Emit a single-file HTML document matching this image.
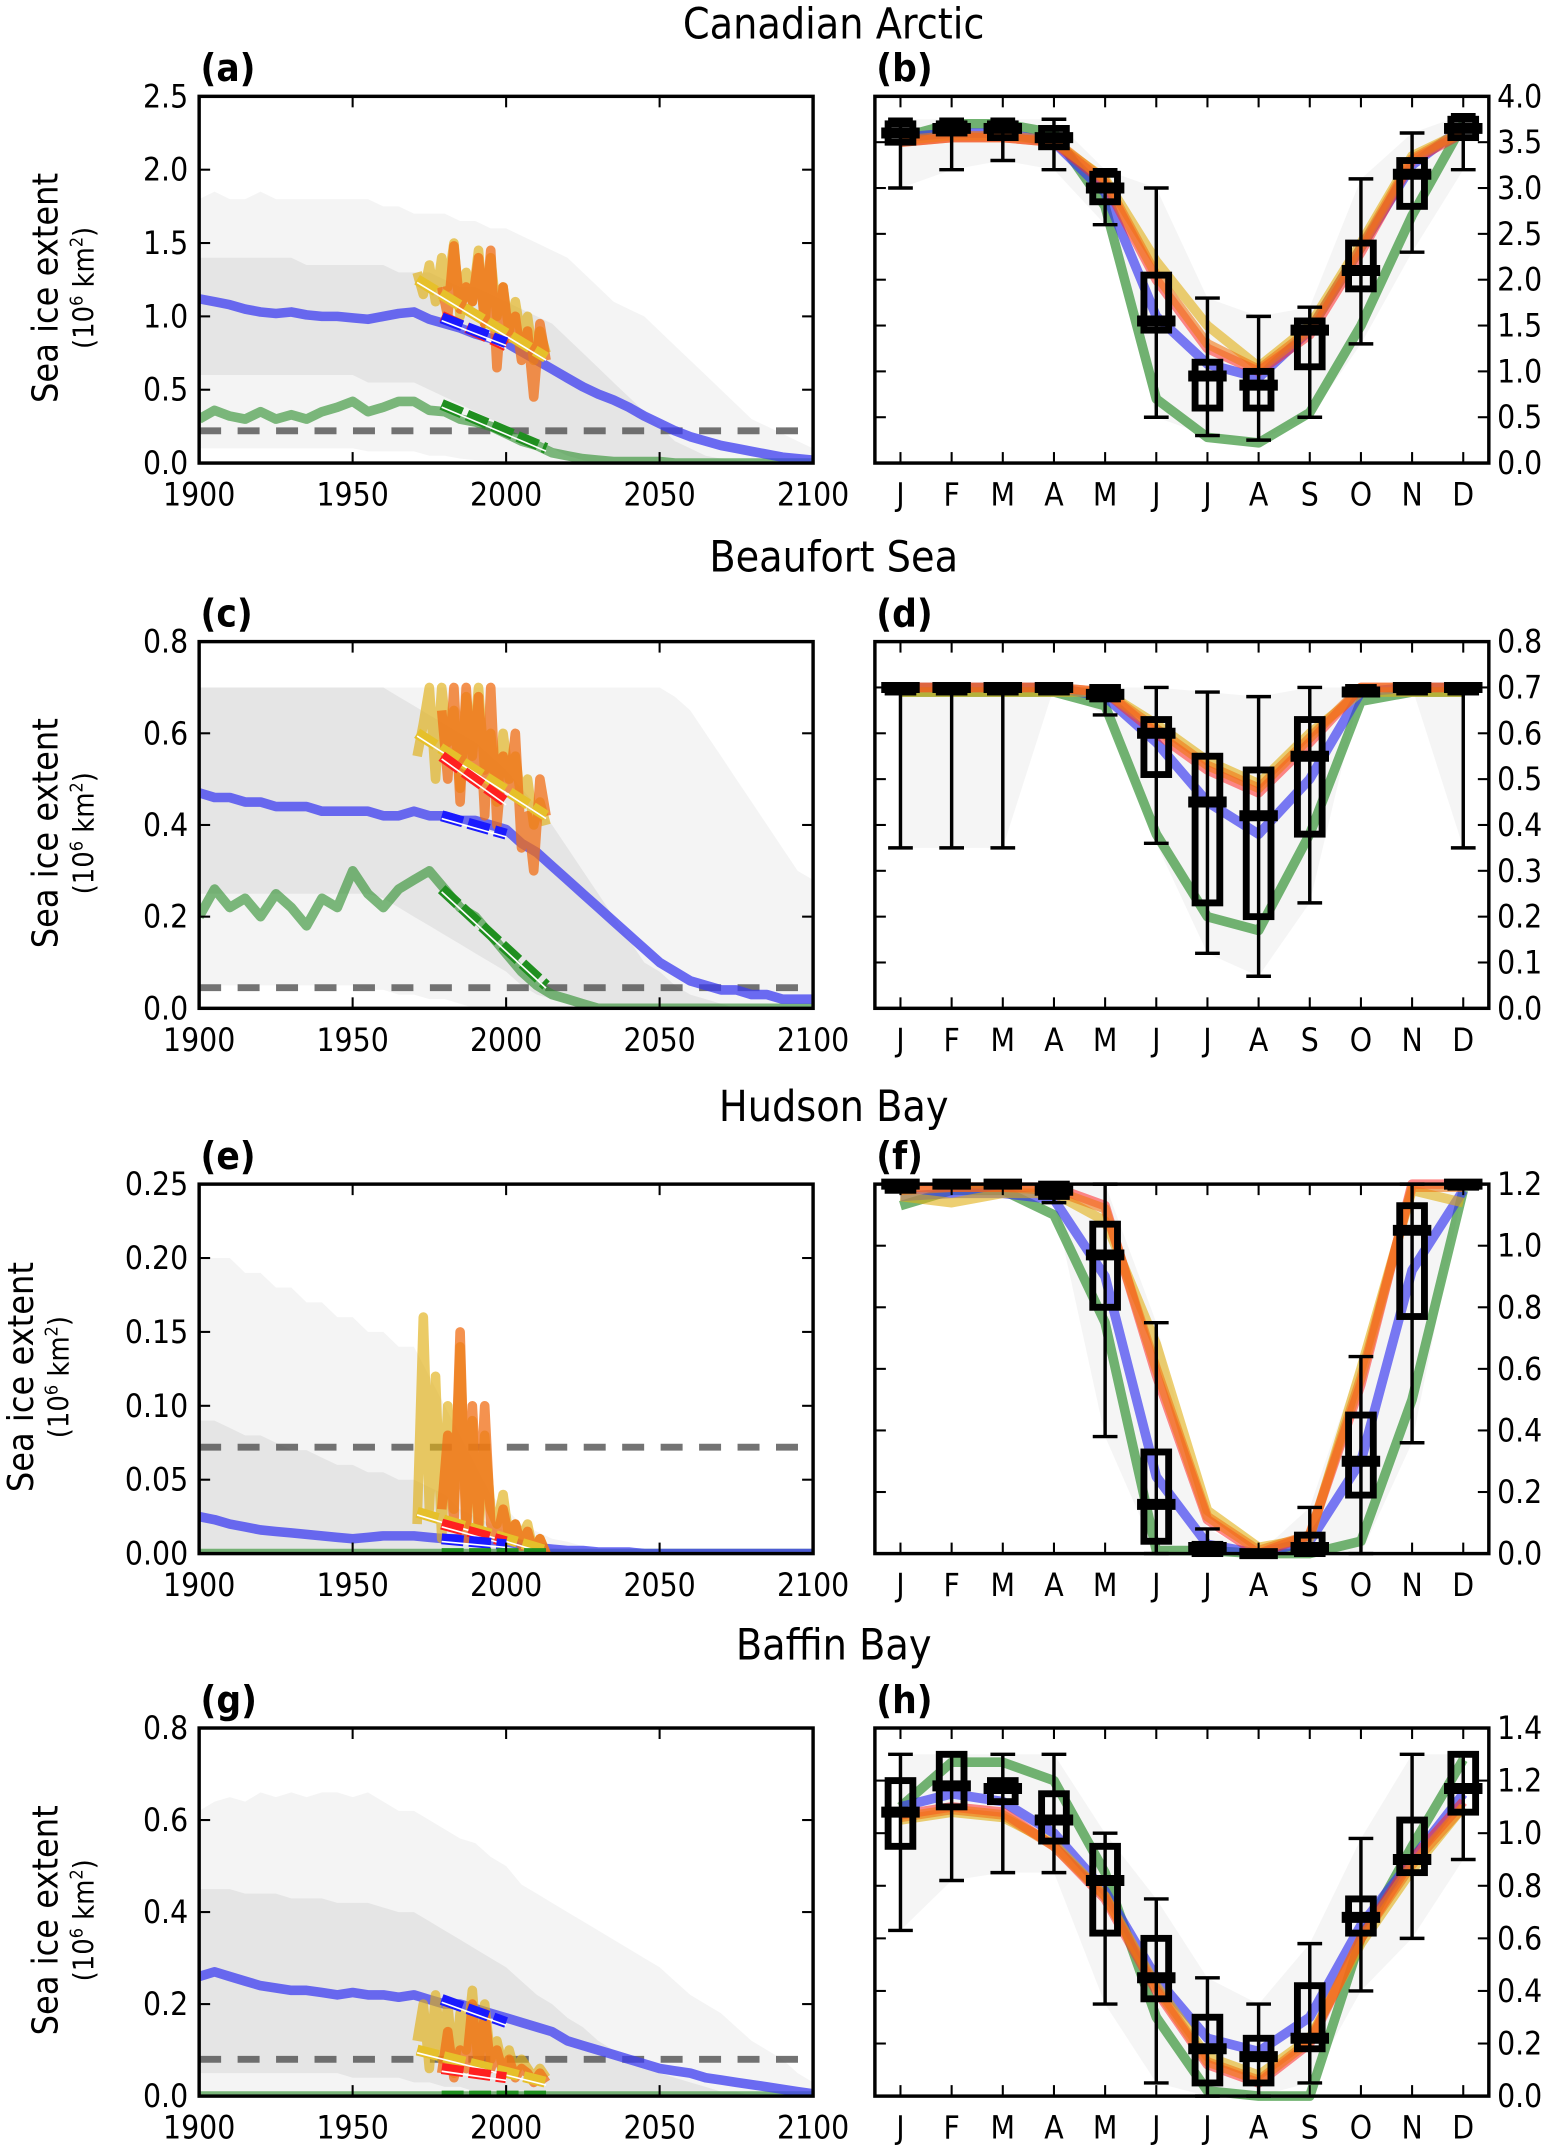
<!DOCTYPE html>
<html><head><meta charset="utf-8"><style>
html,body{margin:0;padding:0;background:#fff}
svg{display:block}
text{font-family:"DejaVu Sans Condensed","DejaVu Sans","Liberation Sans",sans-serif;fill:#000}
</style></head><body>
<svg id="fig" width="1563" height="2154" viewBox="0 0 1138 1568" xmlns="http://www.w3.org/2000/svg"></svg>
<script>
// ---------- DATA ----------
const years5 = [];
for (let y = 1900; y <= 2100; y += 5) years5.push(y);
const months = ['J','F','M','A','M','J','J','A','S','O','N','D'];

// Panel a (Canadian Arctic)
const aBlue = [1.12,1.1,1.08,1.05,1.03,1.02,1.03,1.01,1.0,1.0,0.99,0.98,1.0,1.02,1.03,0.98,0.95,0.92,0.88,0.85,0.82,0.76,0.7,0.64,0.58,0.52,0.47,0.43,0.38,0.32,0.27,0.22,0.18,0.15,0.12,0.1,0.08,0.06,0.04,0.03,0.02];
const aGreen = [0.3,0.36,0.32,0.3,0.35,0.3,0.33,0.3,0.35,0.38,0.42,0.35,0.38,0.42,0.42,0.36,0.35,0.3,0.28,0.25,0.2,0.15,0.12,0.07,0.05,0.03,0.02,0.01,0.01,0.01,0.01,0,0,0,0,0,0,0,0,0,0];
const aEnvHi = [1.8,1.85,1.8,1.8,1.85,1.8,1.8,1.8,1.8,1.8,1.8,1.8,1.75,1.75,1.7,1.7,1.7,1.65,1.65,1.6,1.6,1.55,1.5,1.45,1.4,1.3,1.2,1.1,1.05,1.0,0.9,0.8,0.7,0.6,0.5,0.4,0.3,0.25,0.2,0.15,0.1];
const aEnvLo = [0.1,0.1,0.1,0.1,0.1,0.1,0.1,0.1,0.1,0.1,0.1,0.08,0.08,0.08,0.08,0.05,0.05,0.03,0.02,0.01,0,0,0,0,0,0,0,0,0,0,0,0,0,0,0,0,0,0,0,0,0];
const aCoreHi = [1.4,1.4,1.4,1.4,1.4,1.4,1.4,1.35,1.35,1.35,1.35,1.35,1.35,1.3,1.3,1.3,1.25,1.2,1.2,1.15,1.1,1.05,1.0,0.95,0.85,0.75,0.65,0.55,0.45,0.35,0.25,0.15,0.1,0.05,0.03,0.02,0.01,0,0,0,0];
const aCoreLo = [0.6,0.6,0.6,0.6,0.6,0.6,0.6,0.6,0.6,0.6,0.6,0.55,0.55,0.55,0.55,0.5,0.45,0.4,0.35,0.3,0.25,0.2,0.15,0.1,0.05,0.02,0,0,0,0,0,0,0,0,0,0,0,0,0,0,0];
const obsYears = [1971,1973,1975,1977,1979,1981,1983,1985,1987,1989,1991,1993,1995,1997,1999,2001,2003,2005,2007,2009,2011,2013];
const aYellow = [1.3,1.15,1.35,1.1,1.4,1.2,1.5,1.0,1.3,1.1,1.45,0.95,1.4,1.0,1.2,0.9,1.1,0.85,1.0,0.7,0.9,0.75];
const aOrange = [null,null,null,null,1.2,1.0,1.48,1.05,1.2,1.1,1.4,0.95,1.45,0.65,1.2,0.85,1.0,0.7,0.9,0.45,0.95,0.7];
const aThr = 0.22;
const aTrY = [1971,1.25,2013,0.72], aTrR = [1979,1.0,2000,0.8], aTrB = [1979,0.99,2000,0.82], aTrG = [1979,0.4,2013,0.1];

// Panel c (Beaufort Sea)
const cBlue = [0.47,0.46,0.46,0.45,0.45,0.44,0.44,0.44,0.43,0.43,0.43,0.43,0.42,0.42,0.43,0.42,0.42,0.41,0.41,0.4,0.39,0.36,0.34,0.31,0.28,0.25,0.22,0.19,0.16,0.13,0.1,0.08,0.06,0.05,0.04,0.04,0.03,0.03,0.02,0.02,0.02];
const cGreen = [0.2,0.26,0.22,0.24,0.2,0.25,0.22,0.18,0.24,0.22,0.3,0.25,0.22,0.26,0.28,0.3,0.26,0.22,0.2,0.16,0.12,0.08,0.05,0.03,0.02,0.01,0,0,0,0,0,0,0,0,0,0,0,0,0,0,0];
const cEnvHi = [0.7,0.7,0.7,0.7,0.7,0.7,0.7,0.7,0.7,0.7,0.7,0.7,0.7,0.7,0.7,0.7,0.7,0.7,0.7,0.7,0.7,0.7,0.7,0.7,0.7,0.7,0.7,0.7,0.7,0.7,0.7,0.68,0.65,0.6,0.55,0.5,0.45,0.4,0.35,0.3,0.28];
const cEnvLo = [0.05,0.05,0.05,0.05,0.05,0.05,0.05,0.05,0.05,0.05,0.05,0.04,0.04,0.03,0.03,0.02,0.02,0.01,0,0,0,0,0,0,0,0,0,0,0,0,0,0,0,0,0,0,0,0,0,0,0];
const cCoreHi = [0.7,0.7,0.7,0.7,0.7,0.7,0.7,0.7,0.7,0.7,0.7,0.7,0.7,0.68,0.66,0.64,0.62,0.6,0.58,0.55,0.52,0.48,0.44,0.4,0.35,0.3,0.25,0.2,0.15,0.1,0.08,0.05,0.03,0.02,0.01,0,0,0,0,0,0];
const cCoreLo = [0.25,0.25,0.25,0.25,0.25,0.25,0.25,0.25,0.25,0.25,0.25,0.25,0.24,0.22,0.2,0.18,0.16,0.14,0.12,0.1,0.08,0.05,0.03,0.02,0.01,0,0,0,0,0,0,0,0,0,0,0,0,0,0,0,0];
const cYellow = [0.55,0.62,0.7,0.5,0.7,0.58,0.65,0.48,0.68,0.55,0.7,0.52,0.6,0.45,0.6,0.5,0.55,0.45,0.5,0.4,0.45,0.4];
const cOrange = [null,null,null,null,0.65,0.5,0.7,0.45,0.7,0.5,0.68,0.42,0.7,0.4,0.55,0.48,0.6,0.35,0.42,0.3,0.5,0.42];
const cThr = 0.045;
const cTrY = [1971,0.6,2013,0.42], cTrR = [1979,0.55,2000,0.45], cTrB = [1979,0.42,2000,0.38], cTrG = [1979,0.26,2013,0.05];

// Panel e (Hudson Bay)
const eBlue = [0.025,0.023,0.02,0.018,0.016,0.015,0.014,0.013,0.012,0.011,0.01,0.011,0.012,0.012,0.012,0.011,0.01,0.01,0.009,0.008,0.008,0.006,0.004,0.003,0.002,0.002,0.001,0.001,0.001,0,0,0,0,0,0,0,0,0,0,0,0];
const eGreen = [0,0,0,0,0,0,0,0,0,0,0,0,0,0,0,0,0,0,0,0,0,0,0,0,0,0,0,0,0,0,0,0,0,0,0,0,0,0,0,0,0];
const eEnvHi = [0.2,0.2,0.2,0.19,0.19,0.18,0.18,0.17,0.17,0.16,0.16,0.15,0.15,0.14,0.14,0.12,0.1,0.08,0.06,0.04,0.03,0.02,0.015,0.01,0.008,0.005,0.003,0.002,0.001,0,0,0,0,0,0,0,0,0,0,0,0];
const eEnvLo = [0,0,0,0,0,0,0,0,0,0,0,0,0,0,0,0,0,0,0,0,0,0,0,0,0,0,0,0,0,0,0,0,0,0,0,0,0,0,0,0,0];
const eCoreHi = [0.09,0.09,0.085,0.08,0.08,0.075,0.07,0.07,0.065,0.06,0.06,0.055,0.055,0.05,0.05,0.045,0.04,0.03,0.025,0.02,0.015,0.01,0.006,0.004,0.002,0.001,0,0,0,0,0,0,0,0,0,0,0,0,0,0,0];
const eCoreLo = eEnvLo;
const eYellow = [0.02,0.16,0.03,0.12,0.01,0.1,0.03,0.14,0.02,0.09,0.01,0.08,0.03,0.02,0.04,0.01,0.02,0.01,0.02,0.0,0.01,0.0];
const eOrange = [null,null,null,null,0.03,0.08,0.02,0.15,0.01,0.1,0.02,0.1,0.02,0.01,0.03,0.01,0.02,0.005,0.015,0,0.01,0];
const eThr = 0.072;
const eTrY = [1971,0.028,2013,0.002], eTrR = [1979,0.02,2000,0.008], eTrB = [1979,0.01,2000,0.006], eTrG = [1979,0,2013,0];

// Panel g (Baffin Bay)
const gBlue = [0.26,0.27,0.26,0.25,0.24,0.235,0.23,0.23,0.225,0.22,0.225,0.22,0.22,0.215,0.22,0.21,0.2,0.2,0.19,0.18,0.17,0.16,0.15,0.14,0.12,0.11,0.1,0.09,0.08,0.07,0.06,0.055,0.05,0.04,0.035,0.03,0.025,0.02,0.015,0.01,0.005];
const gGreen = eGreen;
const gEnvHi = [0.62,0.64,0.65,0.64,0.66,0.65,0.66,0.65,0.66,0.66,0.65,0.66,0.64,0.62,0.62,0.6,0.58,0.56,0.55,0.52,0.5,0.46,0.44,0.42,0.4,0.38,0.36,0.34,0.32,0.3,0.28,0.25,0.22,0.2,0.18,0.15,0.12,0.1,0.08,0.05,0.03];
const gEnvLo = eEnvLo;
const gCoreHi = [0.45,0.45,0.45,0.44,0.44,0.44,0.43,0.43,0.43,0.42,0.42,0.42,0.41,0.4,0.4,0.38,0.36,0.34,0.32,0.3,0.28,0.25,0.22,0.2,0.17,0.15,0.12,0.1,0.08,0.06,0.05,0.04,0.03,0.02,0.01,0.01,0,0,0,0,0];
const gCoreLo = [0.05,0.05,0.05,0.05,0.05,0.05,0.05,0.05,0.05,0.05,0.04,0.04,0.04,0.04,0.03,0.03,0.02,0.02,0.01,0.01,0,0,0,0,0,0,0,0,0,0,0,0,0,0,0,0,0,0,0,0,0];
const gYellow = [0.12,0.2,0.06,0.22,0.08,0.2,0.05,0.18,0.1,0.23,0.06,0.2,0.08,0.12,0.06,0.1,0.05,0.08,0.06,0.04,0.06,0.04];
const gOrange = [null,null,null,null,0.05,0.14,0.04,0.1,0.06,0.2,0.05,0.18,0.06,0.1,0.05,0.08,0.04,0.06,0.05,0.03,0.05,0.03];
const gThr = 0.08;
const gTrY = [1971,0.1,2013,0.03], gTrR = [1979,0.06,2000,0.04], gTrB = [1979,0.21,2000,0.16], gTrG = [1979,0,2013,0];

// Monthly panels
const bGreen = [3.55,3.7,3.7,3.6,2.8,0.7,0.28,0.22,0.55,1.5,2.7,3.7];
const bBlue = [3.55,3.6,3.6,3.5,2.95,1.6,1.08,0.93,1.45,2.35,3.25,3.67];
const bRed = [3.5,3.55,3.55,3.5,3.05,2.0,1.25,1.0,1.4,2.3,3.3,3.6];
const bOrange = [3.52,3.57,3.57,3.52,3.08,2.05,1.3,1.02,1.45,2.35,3.32,3.62];
const bYellow = [3.5,3.55,3.55,3.5,3.1,2.2,1.5,1.05,1.5,2.4,3.35,3.62];
const bMed = [3.6,3.65,3.65,3.55,3.0,1.55,0.95,0.85,1.45,2.1,3.15,3.65];
const bQ1 = [3.5,3.6,3.55,3.45,2.85,1.45,0.6,0.6,1.05,1.9,2.8,3.55];
const bQ3 = [3.7,3.7,3.7,3.65,3.15,2.05,1.1,1.0,1.55,2.4,3.3,3.75];
const bLo = [3.0,3.2,3.3,3.2,2.6,0.5,0.3,0.25,0.5,1.3,2.3,3.2];
const bHi = [3.75,3.75,3.75,3.75,3.2,3.0,1.8,1.6,1.7,3.1,3.6,3.8];

const dGreen = [0.69,0.69,0.69,0.69,0.66,0.38,0.2,0.17,0.38,0.67,0.69,0.69];
const dBlue = [0.7,0.7,0.7,0.7,0.68,0.58,0.45,0.38,0.5,0.69,0.7,0.7];
const dRed = [0.7,0.7,0.7,0.7,0.69,0.6,0.52,0.47,0.58,0.7,0.7,0.7];
const dOrange = [0.7,0.7,0.7,0.7,0.69,0.61,0.53,0.48,0.59,0.7,0.7,0.7];
const dYellow = [0.69,0.69,0.69,0.69,0.69,0.62,0.54,0.49,0.6,0.69,0.69,0.69];
const dMed = [0.7,0.7,0.7,0.7,0.685,0.6,0.45,0.42,0.55,0.69,0.7,0.7];
const dQ1 = [0.69,0.69,0.69,0.69,0.675,0.51,0.23,0.2,0.38,0.69,0.69,0.69];
const dQ3 = [0.7,0.7,0.7,0.7,0.7,0.63,0.55,0.52,0.63,0.7,0.7,0.7];
const dLo = [0.35,0.35,0.35,0.7,0.64,0.36,0.12,0.07,0.23,0.7,0.7,0.35];
const dHi = [0.7,0.7,0.7,0.7,0.7,0.7,0.69,0.68,0.7,0.7,0.7,0.7];

const fGreen = [1.13,1.18,1.18,1.1,0.75,0.01,0.01,0,0,0.04,0.5,1.18];
const fBlue = [1.16,1.17,1.17,1.15,0.9,0.25,0.03,0,0.04,0.3,0.92,1.18];
const fRed = [1.19,1.19,1.19,1.19,1.13,0.58,0.11,0,0.06,0.55,1.2,1.2];
const fOrange = [1.18,1.19,1.19,1.18,1.12,0.6,0.12,0.01,0.06,0.57,1.19,1.19];
const fYellow = [1.16,1.14,1.17,1.17,1.08,0.68,0.14,0.02,0.05,0.6,1.18,1.14];
const fMed = [1.2,1.2,1.2,1.18,0.97,0.16,0.02,0,0.02,0.3,1.05,1.2];
const fQ1 = [1.18,1.2,1.2,1.16,0.8,0.04,0,0,0,0.19,0.77,1.19];
const fQ3 = [1.2,1.2,1.2,1.2,1.07,0.33,0.03,0,0.06,0.45,1.13,1.2];
const fLo = [1.18,1.2,1.2,1.14,0.38,0,0,0,0,0,0.36,1.19];
const fHi = [1.2,1.2,1.2,1.2,1.2,0.75,0.08,0,0.15,0.64,1.2,1.2];

const hGreen = [1.1,1.27,1.27,1.2,0.85,0.3,0.02,0,0,0.6,0.95,1.28];
const hBlue = [1.1,1.15,1.12,1.0,0.78,0.45,0.22,0.17,0.3,0.65,0.9,1.15];
const hRed = [1.07,1.1,1.08,0.95,0.75,0.4,0.12,0.05,0.2,0.6,0.9,1.12];
const hOrange = [1.06,1.09,1.07,0.95,0.76,0.41,0.13,0.06,0.21,0.6,0.88,1.1];
const hYellow = [1.05,1.08,1.06,0.96,0.76,0.42,0.15,0.08,0.22,0.58,0.86,1.1];
const hMed = [1.08,1.18,1.17,1.05,0.82,0.45,0.18,0.15,0.22,0.68,0.9,1.17];
const hQ1 = [0.95,1.1,1.12,0.97,0.62,0.37,0.05,0.05,0.18,0.62,0.85,1.08];
const hQ3 = [1.2,1.3,1.2,1.15,0.95,0.6,0.3,0.22,0.42,0.75,1.05,1.3];
const hLo = [0.63,0.82,0.85,0.85,0.35,0.05,0,0,0.05,0.4,0.6,0.9];
const hHi = [1.3,1.3,1.3,1.3,1.0,0.75,0.45,0.35,0.58,0.98,1.3,1.3];

// ---------- DRAWING ----------
const svg = document.getElementById('fig');
const NS = 'http://www.w3.org/2000/svg';
function mk(tag, attrs, parent) {
  const e = document.createElementNS(NS, tag);
  for (const k in attrs) e.setAttribute(k, attrs[k]);
  (parent || svg).appendChild(e);
  return e;
}
const LX0 = 145, LX1 = 592, RX0 = 637, RX1 = 1084;
const rows = [[70,337],[467,734],[862,1131],[1258,1526]];

function scaleLin(d0,d1,r0,r1){ return v => r0 + (v-d0)/(d1-d0)*(r1-r0); }
function pathFrom(xs, ys, X, Y) {
  let d = '', pen = false;
  for (let i = 0; i < xs.length; i++) {
    if (ys[i] === null) { pen = false; continue; }
    d += (pen ? 'L' : 'M') + X(xs[i]).toFixed(1) + ',' + Y(ys[i]).toFixed(1);
    pen = true;
  }
  return d;
}
function bandFrom(xs, hi, lo, X, Y) {
  let d = '';
  for (let i = 0; i < xs.length; i++) d += (i ? 'L' : 'M') + X(xs[i]).toFixed(1) + ',' + Y(hi[i]).toFixed(1);
  for (let i = xs.length - 1; i >= 0; i--) d += 'L' + X(xs[i]).toFixed(1) + ',' + Y(lo[i]).toFixed(1);
  return d + 'Z';
}

function frame(g, x0, y0, x1, y1) {
  const r = mk('rect', {x:x0, y:y0, width:x1-x0, height:y1-y0, fill:'none', stroke:'#000', 'stroke-width':2.5}, g);
  
  
}

function timePanel(row, letter, ymax, yticks, fmt, blue, green, envHi, envLo, coreHi, coreLo, yel, org, thr, trY, trR, trB, trG, labelShift) {
  const [y0, y1] = rows[row];
  const g = mk('g', {});
  
  
  const X = scaleLin(1900, 2100, LX0, LX1), Y = scaleLin(0, ymax, y1, y0);
  const clip = mk('clipPath', {id: 'clip' + letter}, g);
  mk('rect', {x:LX0, y:y0, width:LX1-LX0, height:y1-y0}, clip);
  const cg = mk('g', {'clip-path': 'url(#clip' + letter + ')'}, g);
  const env = mk('path', {d: bandFrom(years5, envHi, envLo, X, Y), fill:'rgba(0,0,0,0.045)'}, cg);
  
  
  const core = mk('path', {d: bandFrom(years5, coreHi, coreLo, X, Y), fill:'rgba(0,0,0,0.06)'}, cg);
  
  
  const th = mk('line', {x1:LX0, x2:LX1, y1:Y(thr), y2:Y(thr), stroke:'rgba(80,80,80,0.8)', 'stroke-width':5, 'stroke-dasharray':'16,12'}, cg);
  
  
  const gl = mk('path', {d: pathFrom(years5, green, X, Y), fill:'none', stroke:'rgba(40,140,40,0.6)', 'stroke-width':7, 'stroke-linejoin':'round'}, cg);
  
  
  const bl = mk('path', {d: pathFrom(years5, blue, X, Y), fill:'none', stroke:'rgba(60,60,240,0.75)', 'stroke-width':7, 'stroke-linejoin':'round'}, cg);
  
  
  const yl = mk('path', {d: pathFrom(obsYears, yel, X, Y), fill:'none', stroke:'rgba(225,175,20,0.65)', 'stroke-width':7, 'stroke-linejoin':'round'}, cg);
  
  
  const ol = mk('path', {d: pathFrom(obsYears, org, X, Y), fill:'none', stroke:'rgba(240,110,20,0.75)', 'stroke-width':7, 'stroke-linejoin':'round'}, cg);
  
  
  const trends = [[trY,'#e6c02a','yellow'],[trR,'#ff2020','red'],[trB,'#1a1aff','blue'],[trG,'#1f8f1f','green']];
  for (const [t, col, nm] of trends) {
    const seg = mk('line', {x1:X(t[0]), y1:Y(t[1]), x2:X(t[2]), y2:Y(t[3]), stroke:col, 'stroke-width':8, 'stroke-dasharray':'16,4'}, cg);
    
    
    mk('line', {x1:X(t[0]), y1:Y(t[1])+2, x2:X(t[2]), y2:Y(t[3])+2, stroke:'#fff', 'stroke-width':1.2}, cg);
  }
  frame(g, LX0, y0, LX1, y1);
  for (const yr of [1900,1950,2000,2050,2100]) {
    const x = X(yr);
    mk('line', {x1:x, x2:x, y1:y1, y2:y1-8, stroke:'#000', 'stroke-width':1.5}, g);
    mk('line', {x1:x, x2:x, y1:y0, y2:y0+8, stroke:'#000', 'stroke-width':1.5}, g);
    const t = mk('text', {x:x, y:y1+31, 'text-anchor':'middle', 'font-size':23}, g);
    t.textContent = yr;
    
    
  }
  for (const v of yticks) {
    const y = Y(v);
    mk('line', {x1:LX0, x2:LX0+8, y1:y, y2:y, stroke:'#000', 'stroke-width':1.5}, g);
    mk('line', {x1:LX1, x2:LX1-8, y1:y, y2:y, stroke:'#000', 'stroke-width':1.5}, g);
    const t = mk('text', {x:LX0-8, y:y+8, 'text-anchor':'end', 'font-size':23}, g);
    t.textContent = v.toFixed(fmt);
    
    
  }
  const cy = (y0 + y1) / 2 + 6;
  const t1 = mk('text', {x:0, y:0, 'text-anchor':'middle', 'font-size':26, transform:'translate(' + (42 - labelShift) + ',' + cy + ') rotate(-90)'}, g);
  t1.textContent = 'Sea ice extent';
  
  
  const t2 = mk('text', {x:0, y:0, 'text-anchor':'middle', 'font-size':21, transform:'translate(' + (68 - labelShift) + ',' + cy + ') rotate(-90)'}, g);
  t2.innerHTML = '(10<tspan dy="-8" font-size="13">6</tspan><tspan dy="8"> km</tspan><tspan dy="-8" font-size="13">2</tspan><tspan dy="8">)</tspan>';
  
  
  const pl = mk('text', {x:LX0+1, y:y0-11, 'font-size':28, 'font-weight':'bold'}, g);
  pl.textContent = '(' + letter + ')';
  
  
}

function monthPanel(row, letter, ymax, yticks, fmt, green, blue, red, orange, yellow, med, q1, q3, lo, hi) {
  const [y0, y1] = rows[row];
  const g = mk('g', {});
  
  
  const X = scaleLin(-0.5, 11.5, RX0, RX1), Y = scaleLin(0, ymax, y1, y0);
  const idx = months.map((m, i) => i);
  const env = mk('path', {d: bandFrom(idx, hi, lo, X, Y), fill:'rgba(0,0,0,0.04)'}, g);
  
  
  const series = [[green,'rgba(40,140,40,0.65)','green'],[blue,'rgba(50,50,240,0.65)','blue'],[yellow,'rgba(225,175,20,0.6)','yellow'],[red,'rgba(255,40,40,0.55)','red'],[orange,'rgba(240,120,20,0.6)','orange']];
  for (const [arr, col, nm] of series) {
    const p = mk('path', {d: pathFrom(idx, arr, X, Y), fill:'none', stroke:col, 'stroke-width':7, 'stroke-linejoin':'round'}, g);
    
    
  }
  for (let i = 0; i < 12; i++) {
    const bx = mk('g', {}, g);
    
    
    const x = X(i);
    mk('line', {x1:x, x2:x, y1:Y(lo[i]), y2:Y(hi[i]), stroke:'#000', 'stroke-width':2.5}, bx);
    mk('line', {x1:x-9, x2:x+9, y1:Y(lo[i]), y2:Y(lo[i]), stroke:'#000', 'stroke-width':2.5}, bx);
    mk('line', {x1:x-9, x2:x+9, y1:Y(hi[i]), y2:Y(hi[i]), stroke:'#000', 'stroke-width':2.5}, bx);
    mk('rect', {x:x-9, y:Y(q3[i]), width:18, height:Math.max(1, Y(q1[i])-Y(q3[i])), fill:'none', stroke:'#000', 'stroke-width':5}, bx);
    mk('line', {x1:x-14, x2:x+14, y1:Y(med[i]), y2:Y(med[i]), stroke:'#000', 'stroke-width':8}, bx);
  }
  frame(g, RX0, y0, RX1, y1);
  for (let i = 0; i < 12; i++) {
    const x = X(i);
    mk('line', {x1:x, x2:x, y1:y1, y2:y1-8, stroke:'#000', 'stroke-width':1.5}, g);
    mk('line', {x1:x, x2:x, y1:y0, y2:y0+8, stroke:'#000', 'stroke-width':1.5}, g);
    const t = mk('text', {x:x, y:y1+31, 'text-anchor':'middle', 'font-size':23}, g);
    t.textContent = months[i];
    
    
  }
  for (const v of yticks) {
    const y = Y(v);
    mk('line', {x1:RX0, x2:RX0+8, y1:y, y2:y, stroke:'#000', 'stroke-width':1.5}, g);
    mk('line', {x1:RX1, x2:RX1-8, y1:y, y2:y, stroke:'#000', 'stroke-width':1.5}, g);
    const t = mk('text', {x:RX1+6, y:y+8, 'text-anchor':'start', 'font-size':23}, g);
    t.textContent = v.toFixed(fmt);
    
    
  }
  const pl = mk('text', {x:RX0+1, y:y0-11, 'font-size':28, 'font-weight':'bold'}, g);
  pl.textContent = '(' + letter + ')';
  
  
}

const titles = ['Canadian Arctic','Beaufort Sea','Hudson Bay','Baffin Bay'];
const titleY = [28, 416, 816, 1208];
titles.forEach((s, i) => {
  const t = mk('text', {x:607, y:titleY[i], 'text-anchor':'middle', 'font-size':31});
  t.textContent = s;
  
  
});

timePanel(0,'a',2.5,[0,0.5,1,1.5,2,2.5],1,aBlue,aGreen,aEnvHi,aEnvLo,aCoreHi,aCoreLo,aYellow,aOrange,aThr,aTrY,aTrR,aTrB,aTrG,0);
timePanel(1,'c',0.8,[0,0.2,0.4,0.6,0.8],1,cBlue,cGreen,cEnvHi,cEnvLo,cCoreHi,cCoreLo,cYellow,cOrange,cThr,cTrY,cTrR,cTrB,cTrG,0);
timePanel(2,'e',0.25,[0,0.05,0.1,0.15,0.2,0.25],2,eBlue,eGreen,eEnvHi,eEnvLo,eCoreHi,eCoreLo,eYellow,eOrange,eThr,eTrY,eTrR,eTrB,eTrG,18);
timePanel(3,'g',0.8,[0,0.2,0.4,0.6,0.8],1,gBlue,gGreen,gEnvHi,gEnvLo,gCoreHi,gCoreLo,gYellow,gOrange,gThr,gTrY,gTrR,gTrB,gTrG,0);

monthPanel(0,'b',4,[0,0.5,1,1.5,2,2.5,3,3.5,4],1,bGreen,bBlue,bRed,bOrange,bYellow,bMed,bQ1,bQ3,bLo,bHi);
monthPanel(1,'d',0.8,[0,0.1,0.2,0.3,0.4,0.5,0.6,0.7,0.8],1,dGreen,dBlue,dRed,dOrange,dYellow,dMed,dQ1,dQ3,dLo,dHi);
monthPanel(2,'f',1.2,[0,0.2,0.4,0.6,0.8,1.0,1.2],1,fGreen,fBlue,fRed,fOrange,fYellow,fMed,fQ1,fQ3,fLo,fHi);
monthPanel(3,'h',1.4,[0,0.2,0.4,0.6,0.8,1.0,1.2,1.4],1,hGreen,hBlue,hRed,hOrange,hYellow,hMed,hQ1,hQ3,hLo,hHi);
</script>
</body></html>
